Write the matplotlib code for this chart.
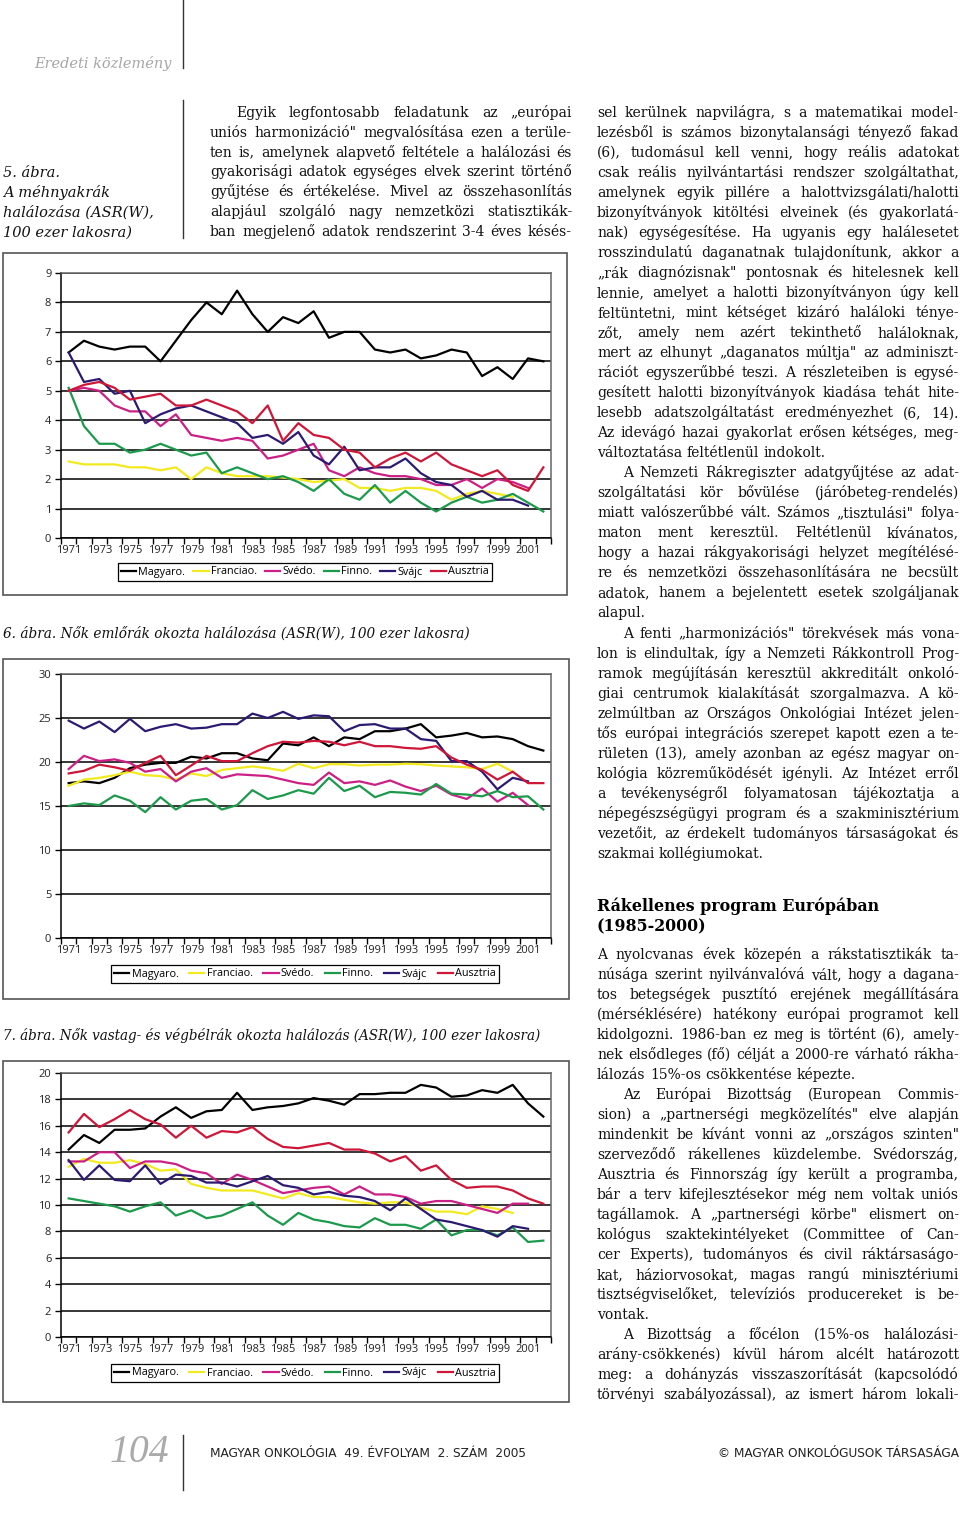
import matplotlib
matplotlib.use("Agg")
import matplotlib.pyplot as plt
from matplotlib.transforms import IdentityTransform
from matplotlib.patches import Rectangle
from matplotlib.lines import Line2D

W, H = 960, 1536
PX = IdentityTransform()

years = list(range(1971, 2003))
countries = ["Magyaro.", "Franciao.", "Svédo.", "Finno.", "Svájc", "Ausztria"]
colors = ["#000000", "#f2ea1e", "#cc1f86", "#1c9a4c", "#2c1a72", "#cf1638"]

# 5. abra - cervix, 1971-2002 (shorter series stop earlier)
cervix_hu = [6.3, 6.7, 6.5, 6.4, 6.5, 6.5, 6.0, 6.7, 7.4, 8.0, 7.6, 8.4, 7.6, 7.0, 7.5, 7.3,
             7.7, 6.8, 7.0, 7.0, 6.4, 6.3, 6.4, 6.1, 6.2, 6.4, 6.3, 5.5, 5.8, 5.4, 6.1, 6.0]
cervix_fr = [2.6, 2.5, 2.5, 2.5, 2.4, 2.4, 2.3, 2.4, 2.0, 2.4, 2.2, 2.1, 2.1, 2.1, 2.05, 2.0,
             1.9, 1.95, 2.0, 1.7, 1.7, 1.6, 1.7, 1.7, 1.6, 1.3, 1.5, 1.6, 1.5, 1.4]
cervix_se = [5.0, 5.1, 5.0, 4.5, 4.3, 4.3, 3.8, 4.2, 3.5, 3.4, 3.3, 3.4, 3.3, 2.7, 2.8, 3.0,
             3.2, 2.3, 2.1, 2.4, 2.2, 2.1, 2.1, 2.0, 1.8, 1.8, 2.0, 1.7, 2.0, 1.9, 1.7]
cervix_fi = [5.1, 3.8, 3.2, 3.2, 2.9, 3.0, 3.2, 3.0, 2.8, 2.9, 2.2, 2.4, 2.2, 2.0, 2.1, 1.9,
             1.6, 2.0, 1.5, 1.3, 1.8, 1.2, 1.6, 1.2, 0.9, 1.2, 1.4, 1.2, 1.3, 1.5, 1.2, 0.9]
cervix_ch = [6.3, 5.3, 5.4, 4.9, 5.0, 3.9, 4.2, 4.4, 4.5, 4.3, 4.1, 3.9, 3.4, 3.5, 3.2, 3.6,
             2.8, 2.5, 3.1, 2.3, 2.4, 2.4, 2.7, 2.2, 1.9, 1.8, 1.4, 1.6, 1.3, 1.3, 1.1]
cervix_at = [5.0, 5.2, 5.3, 5.1, 4.7, 4.8, 4.9, 4.5, 4.5, 4.7, 4.5, 4.3, 3.9, 4.5, 3.3, 3.9,
             3.5, 3.4, 3.0, 2.9, 2.4, 2.7, 2.9, 2.6, 2.9, 2.5, 2.3, 2.1, 2.3, 1.8, 1.6, 2.4]

# 6. abra - emlorak
breast_hu = [17.6, 17.8, 17.6, 18.2, 19.3, 19.7, 19.9, 19.9, 20.6, 20.4, 21.0, 21.0, 20.4, 20.2, 22.1, 21.9,
             22.8, 21.8, 22.8, 22.6, 23.5, 23.5, 23.8, 24.3, 22.8, 23.0, 23.3, 22.8, 22.9, 22.6, 21.8, 21.3]
breast_fr = [17.3, 18.0, 18.2, 18.5, 18.9, 18.5, 18.4, 18.0, 18.7, 18.4, 19.1, 19.3, 19.5, 19.3, 19.0, 19.8,
             19.3, 19.75, 19.75, 19.6, 19.7, 19.7, 19.8, 19.75, 19.6, 19.5, 19.4, 19.2, 19.8, 18.9]
breast_se = [19.2, 20.7, 20.1, 20.3, 19.9, 18.9, 19.2, 17.8, 18.9, 19.3, 18.2, 18.6, 18.5, 18.4, 18.0, 17.6,
             17.4, 18.8, 17.6, 17.8, 17.4, 17.9, 17.2, 16.7, 17.3, 16.3, 15.8, 17.0, 15.5, 16.5, 15.1]
breast_fi = [15.0, 15.3, 15.1, 16.2, 15.6, 14.3, 16.0, 14.6, 15.6, 15.8, 14.6, 15.1, 16.8, 15.8, 16.2, 16.8,
             16.4, 18.2, 16.7, 17.3, 16.0, 16.6, 16.5, 16.3, 17.5, 16.4, 16.3, 16.1, 16.7, 16.0, 16.1, 14.6]
breast_ch = [24.7, 23.8, 24.6, 23.4, 24.9, 23.5, 24.0, 24.3, 23.8, 23.9, 24.3, 24.3, 25.5, 25.0, 25.7, 24.9,
             25.3, 25.2, 23.5, 24.2, 24.3, 23.8, 23.8, 22.6, 22.4, 20.1, 20.1, 18.9, 16.9, 18.2, 17.8]
breast_at = [18.7, 19.0, 19.7, 19.4, 19.0, 19.9, 20.7, 18.5, 19.6, 20.7, 20.1, 20.1, 21.0, 21.8, 22.3, 22.2,
             22.4, 22.3, 21.9, 22.3, 21.8, 21.8, 21.6, 21.5, 21.8, 20.5, 19.7, 19.1, 18.0, 18.9, 17.6, 17.6]

# 7. abra - vastag- es vegbelrak
colon_hu = [14.2, 15.3, 14.7, 15.7, 15.7, 15.8, 16.7, 17.4, 16.6, 17.1, 17.2, 18.5, 17.2, 17.4, 17.5, 17.7,
            18.1, 17.9, 17.6, 18.4, 18.4, 18.5, 18.5, 19.1, 18.9, 18.2, 18.3, 18.7, 18.5, 19.1, 17.7, 16.7]
colon_fr = [12.9, 13.5, 13.2, 13.2, 13.4, 13.1, 12.6, 12.7, 11.6, 11.3, 11.1, 11.1, 11.1, 10.8, 10.5, 10.9,
            10.6, 10.6, 10.4, 10.2, 10.1, 10.2, 10.2, 9.8, 9.5, 9.5, 9.3, 9.9, 9.7, 9.4]
colon_se = [13.3, 13.3, 14.0, 14.0, 12.8, 13.3, 13.3, 13.1, 12.6, 12.4, 11.6, 12.3, 11.9, 11.4, 10.9, 11.1,
            11.3, 11.4, 10.8, 11.4, 10.8, 10.8, 10.6, 10.1, 10.3, 10.3, 10.0, 9.7, 9.4, 10.1, 10.1]
colon_fi = [10.5, 10.3, 10.1, 9.9, 9.5, 9.9, 10.2, 9.2, 9.6, 9.0, 9.2, 9.7, 10.2, 9.2, 8.5, 9.4,
            8.9, 8.7, 8.4, 8.3, 9.0, 8.5, 8.5, 8.2, 8.9, 7.7, 8.1, 8.1, 7.7, 8.3, 7.2, 7.3]
colon_ch = [13.4, 11.9, 13.0, 11.9, 11.8, 13.0, 11.6, 12.3, 12.2, 11.7, 11.7, 11.4, 11.8, 12.2, 11.5, 11.3,
            10.8, 11.0, 10.7, 10.6, 10.3, 9.6, 10.5, 9.7, 8.9, 8.7, 8.4, 8.1, 7.6, 8.4, 8.2]
colon_at = [15.5, 16.9, 15.9, 16.5, 17.2, 16.5, 16.1, 15.1, 16.0, 15.1, 15.6, 15.5, 15.9, 15.0, 14.4, 14.3,
            14.5, 14.7, 14.2, 14.2, 13.9, 13.3, 13.7, 12.6, 13.0, 11.9, 11.3, 11.4, 11.4, 11.1, 10.5, 10.1]

caption5 = ["5. ábra.", "A méhnyakrák", "halálozása (ASR(W),", "100 ezer lakosra)"]
title6 = "6. ábra. Nők emlőrák okozta halálozása (ASR(W), 100 ezer lakosra)"
title7 = "7. ábra. Nők vastag- és végbélrák okozta halálozás (ASR(W), 100 ezer lakosra)"

# ">" = indented first line, "<" = last line of a paragraph (not justified)
text_mid = [
    ">Egyik legfontosabb feladatunk az „európai",
    "uniós harmonizáció\" megvalósítása ezen a terüle-",
    "ten is, amelynek alapvető feltétele a halálozási és",
    "gyakorisági adatok egységes elvek szerint történő",
    "gyűjtése és értékelése. Mivel az összehasonlítás",
    "alapjául szolgáló nagy nemzetközi statisztikák-",
    "ban megjelenő adatok rendszerint 3-4 éves késés-",
]
text_right = [
    "sel kerülnek napvilágra, s a matematikai model-",
    "lezésből is számos bizonytalansági tényező fakad",
    "(6), tudomásul kell venni, hogy reális adatokat",
    "csak reális nyilvántartási rendszer szolgáltathat,",
    "amelynek egyik pillére a halottvizsgálati/halotti",
    "bizonyítványok kitöltési elveinek (és gyakorlatá-",
    "nak) egységesítése. Ha ugyanis egy halálesetet",
    "rosszindulatú daganatnak tulajdonítunk, akkor a",
    "„rák diagnózisnak\" pontosnak és hitelesnek kell",
    "lennie, amelyet a halotti bizonyítványon úgy kell",
    "feltüntetni, mint kétséget kizáró haláloki ténye-",
    "zőt, amely nem azért tekinthető haláloknak,",
    "mert az elhunyt „daganatos múltja\" az adminiszt-",
    "rációt egyszerűbbé teszi. A részleteiben is egysé-",
    "gesített halotti bizonyítványok kiadása tehát hite-",
    "lesebb adatszolgáltatást eredményezhet (6, 14).",
    "Az idevágó hazai gyakorlat erősen kétséges, meg-",
    "változtatása feltétlenül indokolt.<",
    ">A Nemzeti Rákregiszter adatgyűjtése az adat-",
    "szolgáltatási kör bővülése (járóbeteg-rendelés)",
    "miatt valószerűbbé vált. Számos „tisztulási\" folya-",
    "maton ment keresztül. Feltétlenül kívánatos,",
    "hogy a hazai rákgyakorisági helyzet megítélésé-",
    "re és nemzetközi összehasonlítására ne becsült",
    "adatok, hanem a bejelentett esetek szolgáljanak",
    "alapul.<",
    ">A fenti „harmonizációs\" törekvések más vona-",
    "lon is elindultak, így a Nemzeti Rákkontroll Prog-",
    "ramok megújításán keresztül akkreditált onkoló-",
    "giai centrumok kialakítását szorgalmazva. A kö-",
    "zelmúltban az Országos Onkológiai Intézet jelen-",
    "tős európai integrációs szerepet kapott ezen a te-",
    "rületen (13), amely azonban az egész magyar on-",
    "kológia közreműködését igényli. Az Intézet erről",
    "a tevékenységről folyamatosan tájékoztatja a",
    "népegészségügyi program és a szakminisztérium",
    "vezetőit, az érdekelt tudományos társaságokat és",
    "szakmai kollégiumokat.<",
]
heading = ["Rákellenes program Európában", "(1985-2000)"]
text_lower = [
    "A nyolcvanas évek közepén a rákstatisztikák ta-",
    "núsága szerint nyilvánvalóvá vált, hogy a dagana-",
    "tos betegségek pusztító erejének megállítására",
    "(mérséklésére) hatékony európai programot kell",
    "kidolgozni. 1986-ban ez meg is történt (6), amely-",
    "nek elsődleges (fő) célját a 2000-re várható rákha-",
    "lálozás 15%-os csökkentése képezte.<",
    ">Az Európai Bizottság (European Commis-",
    "sion) a „partnerségi megközelítés\" elve alapján",
    "mindenkit be kívánt vonni az „országos szinten\"",
    "szerveződő rákellenes küzdelembe. Svédország,",
    "Ausztria és Finnország így került a programba,",
    "bár a terv kifejlesztésekor még nem voltak uniós",
    "tagállamok. A „partnerségi körbe\" elismert on-",
    "kológus szaktekintélyeket (Committee of Can-",
    "cer Experts), tudományos és civil ráktársaságo-",
    "kat, háziorvosokat, magas rangú minisztériumi",
    "tisztségviselőket, televíziós producereket is be-",
    "vontak.<",
    ">A Bizottság a főcélon (15%-os halálozási-",
    "arány-csökkenés) kívül három alcélt határozott",
    "meg: a dohányzás visszaszorítását (kapcsolódó",
    "törvényi szabályozással), az ismert három lokali-",
]

SERIF = ["DejaVu Serif"]
TIMES = ["Liberation Serif", "DejaVu Serif"]
SANS = ["Open Sans", "DejaVu Sans"]
NARROW = ["Liberation Sans Narrow", "DejaVu Sans"]

fig = plt.figure(figsize=(W / 100, H / 100), dpi=100)
r = fig.canvas.get_renderer()


def txt(x, y, s, **kw):
    # x, y in pixels from the top left corner, y = baseline
    return fig.text(x, H - y, s, transform=PX, **kw)


def fit(x, y, s, width, size, **kw):
    t = txt(x, y, s, fontsize=size, **kw)
    w = t.get_window_extent(r).width
    t.set_fontsize(size * width / w)
    return t


def vline(x, y0, y1, color="#333333"):
    fig.add_artist(Line2D([x, x], [H - y0, H - y1], transform=PX, color=color, lw=1))


def column(lines, x0, x1, y0, dy, size=10, indent=26):
    for i, raw in enumerate(lines):
        first = raw.startswith(">")
        last = raw.endswith("<")
        words = raw.strip("><").split(" ")
        left = x0 + (indent if first else 0)
        y = y0 + i * dy
        fs = size
        while True:
            ts = [txt(0, y, w, fontsize=fs, family=SERIF, color="#111111") for w in words]
            ws = [t.get_window_extent(r).width for t in ts]
            a = txt(0, y, "n n", fontsize=fs, family=SERIF)
            b = txt(0, y, "nn", fontsize=fs, family=SERIF)
            space = a.get_window_extent(r).width - b.get_window_extent(r).width
            a.remove()
            b.remove()
            gap = space if last else (x1 - left - sum(ws)) / max(len(words) - 1, 1)
            if last or gap > 0.55 * space or fs < size * 0.8:
                break
            for t in ts:
                t.remove()
            fs -= 0.2
        x = left
        for t, w in zip(ts, ws):
            t.set_x(x)
            x += w + gap


def chart(rect, box, series, ymax, ystep, legend_xy, colspace):
    bx0, by0, bx1, by1 = box
    fig.add_artist(Rectangle((bx0, H - by1), bx1 - bx0, by1 - by0, transform=PX,
                             fill=False, edgecolor="#555555", lw=1.2))
    x0, y0, x1, y1 = rect
    ax = fig.add_axes([x0 / W, 1 - y1 / H, (x1 - x0) / W, (y1 - y0) / H])
    for vals, c, name in zip(series, colors, countries):
        ax.plot(range(len(vals)), vals, color=c, lw=1.6, label=name)
    ax.set_xlim(-0.5, len(years) - 0.5)
    ax.set_ylim(0, ymax)
    ax.set_yticks(list(range(0, ymax + 1, ystep)))
    ax.grid(axis="y", color="black", lw=1.1)
    ax.set_axisbelow(True)
    ax.set_xticks(list(range(0, len(years), 2)), [str(y) for y in years[::2]])
    ax.set_xticks([i - 0.5 for i in range(len(years) + 1)], minor=True)
    ax.tick_params(axis="x", which="major", length=0, pad=5)
    ax.tick_params(axis="x", which="minor", length=4, width=1)
    ax.tick_params(axis="y", length=4, width=1, pad=3)
    for lab in ax.get_xticklabels() + ax.get_yticklabels():
        lab.set_family(SANS)
        lab.set_fontsize(8)
        lab.set_color("#222222")
    for s in ["left", "bottom"]:
        ax.spines[s].set_color("black")
        ax.spines[s].set_linewidth(1.1)
    for s in ["top", "right"]:
        ax.spines[s].set_color("#666666")
        ax.spines[s].set_linewidth(1.1)
    leg = ax.legend(ncol=6, loc="center", bbox_to_anchor=(legend_xy[0], H - legend_xy[1]),
                    bbox_transform=PX, fancybox=False, edgecolor="black", framealpha=1,
                    prop={"family": SANS, "size": 7.8}, handlelength=1.4, handletextpad=0.2,
                    columnspacing=colspace, borderpad=0.3)
    leg.get_frame().set_linewidth(0.9)
    return ax


# header and separators
fit(172, 68, "Eredeti közlemény", 137, 12, ha="right", family=SERIF, style="italic", color="#a6a6a6")
vline(183, 0, 68)
vline(183, 100, 238)
for i, s in enumerate(caption5):
    txt(3, 177 + i * 20, s, family=SERIF, style="italic", fontsize=10.5, color="#111111")

column(text_mid, 210, 572, 117, 19.8)
column(text_right, 597, 959, 117, 20.02)
t = fit(597, 911, heading[0], 281, 12, family=SERIF, weight="bold")
txt(597, 931, heading[1], family=SERIF, weight="bold", fontsize=t.get_fontsize())
column(text_lower, 597, 959, 959, 20.0)

# charts
chart((61, 273, 551, 538), (3, 253, 567, 595),
      [cervix_hu, cervix_fr, cervix_se, cervix_fi, cervix_ch, cervix_at], 9, 1, (305, 572), 0.75)
fit(3, 638, title6, 467, 11, family=SERIF, style="italic", color="#111111")
chart((61, 674, 551, 938), (3, 659, 569, 999),
      [breast_hu, breast_fr, breast_se, breast_fi, breast_ch, breast_at], 30, 5, (305, 974), 1.0)
fit(3, 1040, title7, 540, 11, family=SERIF, style="italic", color="#111111")
chart((61, 1073, 551, 1337), (3, 1061, 569, 1402),
      [colon_hu, colon_fr, colon_se, colon_fi, colon_ch, colon_at], 20, 2, (305, 1373), 1.0)

# footer
fit(110, 1462, "104", 60, 24, family=TIMES, style="italic", color="#aaaaaa")
vline(183, 1435, 1490)
fit(210, 1457, "MAGYAR ONKOLÓGIA  49. ÉVFOLYAM  2. SZÁM  2005", 315, 13,
    family=NARROW, color="#222222")
fit(959, 1457, "© MAGYAR ONKOLÓGUSOK TÁRSASÁGA", 241, 13, ha="right",
    family=NARROW, color="#222222")

fig.savefig("out.png", dpi=100)
